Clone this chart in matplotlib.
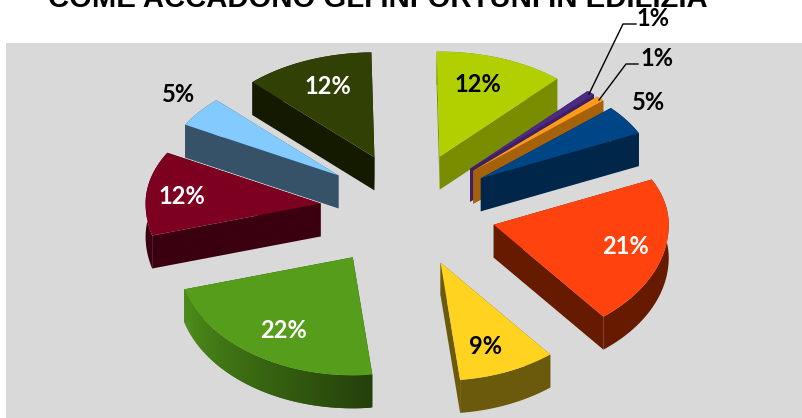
import matplotlib
matplotlib.use("Agg")
import matplotlib.pyplot as plt
import matplotlib.colors as mcolors
from matplotlib.patches import Rectangle
import numpy as np

# data
titre = "COME ACCADONO GLI INFORTUNI IN EDILIZIA"
valeurs = [12, 0.8, 0.8, 4.6, 21.3, 9, 22.4, 12.4, 4.7, 12.0]
etiquettes = ["12%", "1%", "1%", "5%", "21%", "9%", "22%", "12%", "5%", "12%"]

# couleurs : dessus, paroi
dessus = ["#b2d000", "#4b2a80", "#ff9a1a", "#004586", "#ff420e",
          "#ffd320", "#579d1c", "#7e0021", "#83caff", "#314004"]
parois = ["#7a8c00", "#3d1f66", "#a5620a", "#00264a", "#661a00",
          "#6b5a0c", "#24400a", "#3a0010", "#355269", "#131a00"]
couleurs_txt = ["black", "black", "black", "black", "white",
                "black", "white", "white", "black", "white"]

# position des étiquettes (centre du texte, pixels)
pos_txt = [(478, 85), (653, 19), (657, 59), (649, 103), (626, 247),
           (486, 347), (284, 331), (182, 197), (179, 95), (328, 87)]

# géométrie du camembert en pixels
cx, cy = 408, 210
rx, ry_haut, ry_bas = 175, 105, 118
ex, ey = 90, 57
ep = 33
rot = -1
decal_x = [0, 0, 0, -2, -2, -2, -5, 2, 2, 1]
decal_y = [0, 0, 0, 0, 2, 0, 0, 0, 0, 0]


def point(ax0, ay0, ang):
    a = np.radians(ang)
    c = np.cos(a)
    ry = np.where(c > 0, ry_haut, ry_bas)
    return ax0 + rx*np.sin(a), ay0 - ry*c


fig = plt.figure(figsize=(8.03, 4.18), dpi=100)
ax = fig.add_axes([0, 0, 1, 1])
ax.set_xlim(0, 803)
ax.set_ylim(418, 0)
ax.axis("off")

ax.add_patch(Rectangle((6, 43), 797, 375, color="#d9d9d9", lw=0, zorder=0))

bornes = np.cumsum([0] + valeurs)/sum(valeurs)*360 + rot
for i in range(len(valeurs)):
    a0, a1 = bornes[i], bornes[i+1]
    mid = np.radians((a0 + a1)/2)
    ax0 = cx + ex*np.sin(mid) + decal_x[i]
    ay0 = cy - ey*np.cos(mid) + decal_y[i]
    angs = np.linspace(a0, a1, max(int(a1 - a0)*2, 4))
    xs, ys = point(ax0, ay0, angs)

    # parois radiales
    for xe, ye in [(xs[0], ys[0]), (xs[-1], ys[-1])]:
        ax.fill([ax0, xe, xe, ax0], [ay0, ye, ye+ep, ay0+ep],
                color=parois[i], lw=0, zorder=i*3+1)

    # paroi extérieure
    if i == 6:
        # dégradé sur le vert : sombre à droite, clair à gauche
        cg = np.array(mcolors.to_rgb("#4e8f1a"))
        cd = np.array(mcolors.to_rgb(parois[i]))
        for k in range(len(angs)-1):
            t = k/(len(angs)-2)
            k2 = min(k+2, len(angs)-1)
            ax.fill([xs[k], xs[k2], xs[k2], xs[k]],
                    [ys[k], ys[k2], ys[k2]+ep, ys[k]+ep],
                    color=tuple(cg*t + cd*(1-t)), lw=0, zorder=i*3+2)
    else:
        ax.fill(np.r_[xs, xs[::-1]], np.r_[ys, ys[::-1]+ep],
                color=parois[i], lw=0, zorder=i*3+2)

    # dessus
    ax.fill(np.r_[ax0, xs], np.r_[ay0, ys], color=dessus[i], lw=0, zorder=i*3+3)

    ax.text(pos_txt[i][0], pos_txt[i][1], etiquettes[i], color=couleurs_txt[i],
            fontsize=17, fontweight="bold", family="Lato",
            ha="center", va="center", zorder=100)

# traits de rappel des deux 1%
ax.plot([589, 623, 636], [94, 24, 24], color="black", lw=1, zorder=90)
ax.plot([599, 626, 638], [100, 64, 64], color="black", lw=1, zorder=90)

ax.text(378, 7, titre, fontsize=21.1, fontweight="bold", family="Liberation Sans",
        ha="center", va="baseline", color="black", zorder=100)

fig.savefig("out.png", dpi=100)
